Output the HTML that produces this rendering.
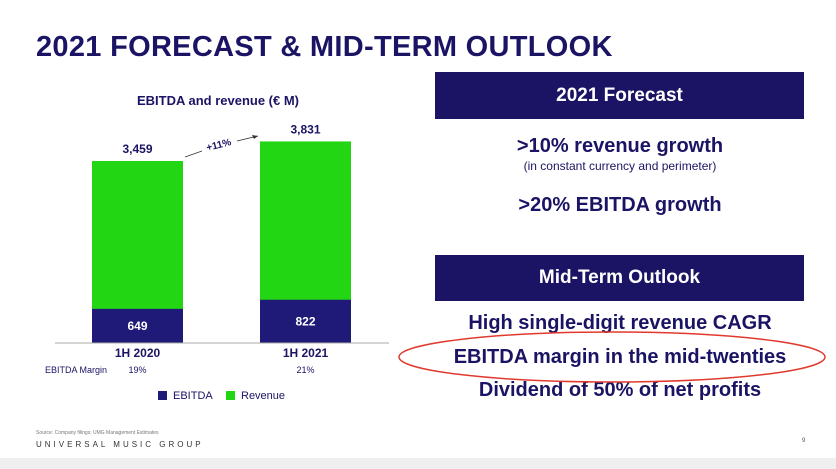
<!DOCTYPE html>
<html><head><meta charset="utf-8"><style>
body{margin:0;width:836px;height:469px;overflow:hidden;background:#fff;font-family:"Liberation Sans",sans-serif;position:relative;color:#1b1464}
.t{position:absolute;white-space:nowrap}
.box{position:absolute;left:435px;width:369px;background:#1b1464;color:#fff;font-weight:bold;font-size:19px;text-align:center}
.c{position:absolute;left:420px;width:400px;text-align:center;font-weight:bold;font-size:20px;white-space:nowrap}
</style></head><body>
<div class="t" style="left:36px;top:31px;font-size:29px;font-weight:900;letter-spacing:0.3px">2021 FORECAST &amp; MID-TERM OUTLOOK</div>
<svg id="chart" width="420" height="420" style="position:absolute;left:0;top:0"></svg>
<div class="box" style="top:72px;height:47px;line-height:47px">2021 Forecast</div>
<div class="c" style="top:135px">&gt;10% revenue growth</div>
<div class="c" style="top:159px;font-size:12px;font-weight:normal">(in constant currency and perimeter)</div>
<div class="c" style="top:194px">&gt;20% EBITDA growth</div>
<div class="box" style="top:255px;height:46px;line-height:46px">Mid-Term Outlook</div>
<div class="c" style="top:312px">High single-digit revenue CAGR</div>
<div class="c" style="top:346px">EBITDA margin in the mid-twenties</div>
<div class="c" style="top:379px">Dividend of 50% of net profits</div>
<svg width="836" height="469" style="position:absolute;left:0;top:0;pointer-events:none"><ellipse cx="612" cy="357" rx="213" ry="25" fill="none" stroke="#e03a2e" stroke-width="1.5"/></svg>
<div class="t" style="left:36px;top:430px;font-size:5px;color:#777">Source: Company filings; UMG Management Estimates</div>
<div class="t" style="left:36px;top:440px;font-size:8px;letter-spacing:3px;color:#333">UNIVERSAL MUSIC GROUP</div>
<div class="t" style="left:802px;top:438px;font-size:6px;color:#555">9</div>
<div style="position:absolute;left:0;top:458px;width:836px;height:11px;background:#efefef"></div>
<script>
const categories=["1H 2020","1H 2021"];
const revenue=[3459,3831];
const ebitda=[649,822];
const margins=["19%","21%"];
const revLabels=["3,459","3,831"];
const NS="http://www.w3.org/2000/svg";
const svg=document.getElementById('chart');
const baseY=343,scale=182/3459;
const y=v=>baseY-v*scale;
const xs=i=>92+i*168;
const bw=91;
function mk(tag,attrs,text){const e=document.createElementNS(NS,tag);for(const k in attrs)e.setAttribute(k,attrs[k]);if(text!==undefined)e.textContent=text;svg.appendChild(e);return e;}
let e=mk('text',{x:218,y:105,'text-anchor':'middle','font-size':13,'font-weight':'bold',fill:'#1b1464'},'EBITDA and revenue (€ M)');


categories.forEach((c,i)=>{
  let r=mk('rect',{x:xs(i),y:y(revenue[i]),width:bw,height:revenue[i]*scale,fill:'#22d614'});
  
  
  let b=mk('rect',{x:xs(i),y:y(ebitda[i]),width:bw,height:ebitda[i]*scale,fill:'#1f1a78'});
  
  
  let t=mk('text',{x:xs(i)+bw/2,y:y(revenue[i])-8,'text-anchor':'middle','font-size':12,'font-weight':'bold',fill:'#1b1464'},revLabels[i]);
  
  
  let t2=mk('text',{x:xs(i)+bw/2,y:(y(ebitda[i])+baseY)/2+4,'text-anchor':'middle','font-size':12,'font-weight':'bold',fill:'#fff'},ebitda[i]);
  
  
  let t3=mk('text',{x:xs(i)+bw/2,y:357,'text-anchor':'middle','font-size':12,'font-weight':'bold',fill:'#1b1464'},c);
  
  
  let t4=mk('text',{x:xs(i)+bw/2,y:373,'text-anchor':'middle','font-size':9,fill:'#1b1464'},margins[i]);
  
  
});
e=mk('text',{x:45,y:373,'font-size':9,fill:'#1b1464'},'EBITDA Margin');


e=mk('line',{x1:55,y1:baseY,x2:389,y2:baseY,stroke:'#aaa','stroke-width':1});


e=mk('path',{d:'M185 157 L202 151 M237 141 L258 136',stroke:'#333','stroke-width':0.8,fill:'none'});


e=mk('path',{d:'M258 136 L252 135 L254 139 Z',fill:'#333'});


e=mk('text',{x:219,y:148,'text-anchor':'middle','font-size':10,'font-weight':'bold',fill:'#1b1464',transform:'rotate(-14 219 146)'},'+11%');


e=mk('rect',{x:158,y:391,width:9,height:9,fill:'#1f1a78'});


e=mk('text',{x:173,y:399,'font-size':11,fill:'#1b1464'},'EBITDA');


e=mk('rect',{x:226,y:391,width:9,height:9,fill:'#22d614'});


e=mk('text',{x:241,y:399,'font-size':11,fill:'#1b1464'},'Revenue');


</script>
</body></html>
